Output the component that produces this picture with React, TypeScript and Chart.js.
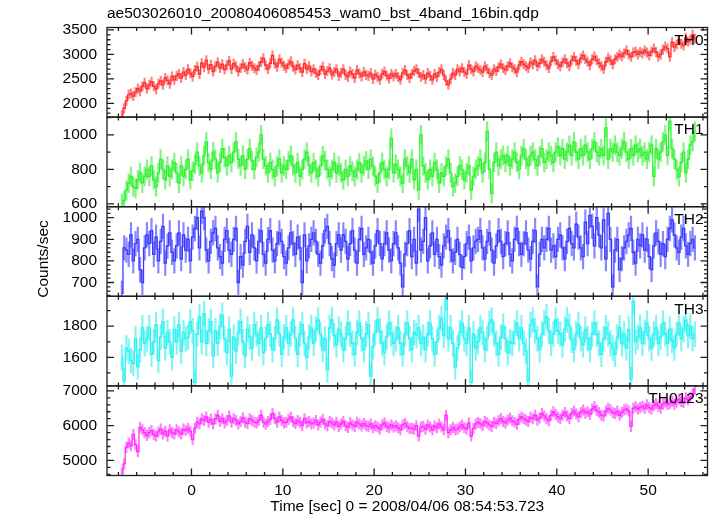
import { useEffect, useRef } from "react";
import { Chart, registerables } from "chart.js";

Chart.register(...registerables);

const TITLE = "ae503026010_20080406085453_wam0_bst_4band_16bin.qdp";
const X_TITLE = "Time [sec] 0 = 2008/04/06 08:54:53.723";
const Y_TITLE = "Counts/sec";
const FONT = "'Liberation Sans', Arial, Helvetica, sans-serif";
const FONT_SIZE = 15.5;

const TIME_START = -7.75;
const BIN_WIDTH = 0.25;

const TH0 = [
  1760,1900,2050,2180,2200,2150,2230,2300,2250,2350,2420,2300,
  2380,2440,2350,2290,2400,2460,2380,2520,2470,2400,2550,2480,
  2560,2600,2520,2640,2580,2700,2610,2550,2680,2750,2600,2820,
  2740,2880,2700,2790,2650,2760,2840,2720,2800,2690,2780,2870,
  2700,2810,2760,2650,2720,2800,2740,2690,2830,2770,2720,2680,
  2760,2850,2920,2780,2700,2820,2980,2810,2750,2900,2830,2770,
  2720,2800,2860,2750,2690,2780,2720,2640,2810,2700,2760,2650,
  2700,2620,2580,2680,2750,2600,2660,2720,2590,2640,2700,2560,
  2620,2700,2580,2540,2650,2600,2520,2680,2610,2550,2640,2580,
  2560,2620,2500,2590,2540,2480,2600,2650,2570,2510,2600,2550,
  2600,2540,2480,2620,2680,2580,2520,2600,2660,2700,2620,2540,
  2580,2500,2620,2560,2480,2600,2540,2640,2700,2580,2460,2380,
  2500,2620,2580,2700,2650,2720,2640,2600,2780,2700,2650,2760,
  2720,2680,2640,2760,2700,2620,2580,2700,2660,2740,2800,2720,
  2680,2760,2820,2740,2700,2640,2780,2850,2800,2760,2720,2840,
  2800,2880,2760,2820,2900,2850,2780,2720,2860,2950,2880,2800,
  2760,2840,2900,2820,2760,2880,2950,2870,2800,2920,2980,2900,
  2850,2780,2900,2960,2880,2820,2760,2700,2850,2930,2880,2800,
  2900,2950,3000,2960,3020,3080,3000,2950,3040,3060,3000,3050,
  3020,3080,3040,2980,3060,3120,3050,2950,3000,3100,3160,3120,
  2950,3250,3150,3200,3300,3220,3180,3340,3260,3300,3400,3320,
];

const TH1 = [
  600,620,680,720,760,700,690,740,780,720,760,800,
  760,820,740,700,780,860,800,740,820,760,800,840,
  780,720,820,760,800,860,740,790,830,900,820,780,
  880,960,840,800,900,860,780,840,920,870,820,880,
  840,900,960,860,820,880,800,860,920,850,800,870,
  900,1000,860,820,780,840,800,760,820,860,780,820,
  800,850,880,820,780,840,760,800,860,900,820,780,
  840,800,760,820,880,850,800,760,800,840,780,820,
  780,740,800,760,820,790,760,800,840,780,820,850,
  800,860,820,760,720,780,840,800,760,800,980,780,
  830,800,760,720,860,820,780,860,740,800,680,1000,
  820,780,740,800,760,840,800,720,780,760,820,860,
  780,700,720,760,820,800,740,780,820,680,760,800,
  820,860,780,840,1020,800,660,840,900,820,860,880,
  840,880,820,860,900,840,800,880,920,860,820,880,
  900,860,820,880,920,840,860,900,880,840,900,930,
  880,920,860,900,940,880,960,900,860,920,880,940,
  900,860,920,960,900,880,920,880,1040,860,920,900,
  940,900,880,920,960,900,860,920,880,940,900,920,
  880,900,860,900,940,760,920,860,900,960,1000,880,
  1080,920,860,800,760,840,900,780,860,940,960,1020,
];

const TH2 = [
  650,860,850,830,920,800,880,900,760,700,860,920,
  880,940,830,910,800,890,960,790,870,930,840,800,
  870,930,810,920,850,900,800,910,950,1000,860,1030,
  1000,850,800,890,930,950,860,820,790,900,940,850,
  830,900,950,700,820,780,890,960,840,920,860,800,
  890,940,830,790,900,940,850,800,880,930,890,820,
  790,860,930,880,830,910,860,700,920,800,870,900,
  930,890,830,790,870,940,960,880,810,780,880,920,
  850,920,890,810,880,940,850,790,900,950,830,860,
  900,840,790,870,940,880,810,880,930,850,800,880,
  930,860,790,680,830,880,940,820,900,790,1040,850,
  890,1000,800,870,930,830,900,820,780,870,910,940,
  850,800,840,900,830,770,820,880,910,800,860,890,
  900,940,860,810,890,930,850,790,870,940,890,820,
  880,930,830,800,900,950,880,830,880,930,850,810,
  890,940,680,830,900,860,900,950,850,870,820,900,
  920,860,810,890,950,880,860,970,910,860,820,980,
  880,1010,960,870,1000,920,860,990,810,1020,900,680,
  850,900,760,810,860,890,920,950,840,790,900,870,
  920,850,900,820,760,870,930,890,830,880,820,900,
  950,990,920,860,840,910,950,870,830,880,900,860,
];

const TH3 = [
  1600,1450,1660,1640,1580,1560,1720,1540,1650,1790,1690,1720,
  1790,1620,1700,1810,1580,1730,1830,1660,1760,1700,1600,1780,
  1700,1810,1640,1760,1720,1730,1830,1770,1440,1750,1860,1700,
  1880,1690,1770,1830,1610,1770,1690,1800,1870,1720,1630,1780,
  1480,1730,1640,1760,1830,1700,1610,1780,1730,1660,1810,1750,
  1690,1790,1630,1720,1810,1750,1650,1720,1840,1750,1620,1730,
  1790,1690,1750,1840,1720,1620,1750,1810,1690,1600,1730,1790,
  1690,1780,1840,1750,1650,1720,1520,1790,1840,1740,1680,1780,
  1750,1650,1720,1820,1750,1690,1620,1760,1820,1720,1650,1750,
  1810,1480,1670,1760,1840,1770,1690,1630,1730,1820,1750,1690,
  1720,1790,1690,1620,1750,1820,1720,1650,1760,1740,1790,1690,
  1730,1650,1750,1820,1720,1620,1700,1790,1850,1740,1980,1720,
  1790,1690,1540,1660,1760,1820,1720,1690,1790,1440,1750,1660,
  1700,1790,1760,1650,1720,1820,1840,1750,1690,1620,1730,1800,
  1720,1630,1700,1690,1760,1820,1720,1790,1690,1640,1450,1810,
  1840,1770,1720,1650,1750,1820,1860,1770,1690,1750,1840,1770,
  1750,1680,1780,1840,1800,1710,1650,1750,1810,1720,1680,1780,
  1720,1650,1750,1820,1750,1690,1620,1720,1790,1750,1690,1660,
  1620,1730,1790,1690,1750,1660,1780,1460,1960,1700,1730,1790,
  1690,1760,1820,1720,1660,1750,1790,1690,1730,1820,1750,1690,
  1780,1710,1660,1750,1820,1720,1780,1840,1740,1800,1720,1750,
];

const TH0123 = [
  4620,4900,5380,5500,5420,5750,5450,5250,5950,5880,5800,5720,
  5800,5860,5740,5700,5820,5900,5760,5840,5700,5880,5800,5760,
  5880,5820,5760,5900,5860,5920,5840,5600,5920,6100,6050,6200,
  6150,6250,6100,6180,6050,6200,6300,6120,6200,6080,6150,6280,
  6100,6200,6150,6050,6120,6220,6100,6060,6200,6150,6100,6080,
  6150,6300,6100,6050,6120,6180,6350,6200,6100,6250,6150,6080,
  6100,6180,6250,6120,6060,6150,6100,6000,6200,6080,6120,6050,
  6080,6150,6020,6100,6180,6050,6000,6120,6080,6020,6100,5980,
  6050,6120,6000,5950,6080,6020,5980,6100,6050,5990,6060,6000,
  5980,6050,5940,6000,5960,5900,6020,6080,5980,5940,6020,5960,
  6000,5940,5880,6020,6060,5980,5920,5920,5900,6000,5700,5960,
  5980,5900,6020,5960,5880,6000,5940,6050,5960,5880,6300,5800,
  5880,5950,5880,5900,5960,6020,5940,5900,6080,5700,5920,6050,
  6100,6060,6000,6120,6080,6020,5980,6100,6060,6140,6200,6120,
  6080,6160,6220,6140,6100,6040,6180,6250,6200,6160,6120,6240,
  6200,6300,6160,6220,6350,6280,6200,6140,6300,6400,6320,6250,
  6200,6300,6380,6280,6200,6350,6420,6340,6260,6380,6450,6360,
  6400,6320,6480,6550,6440,6380,6300,6280,6420,6500,6450,6380,
  6350,6420,6300,6380,6450,6480,6420,5980,6500,6550,6480,6520,
  6560,6500,6600,6520,6480,6580,6640,6560,6500,6620,6680,6600,
  6640,6700,6620,6680,6760,6700,6660,6800,6740,6820,6920,7050,
];

const BAND_NAMES = ["TH0", "TH1", "TH2", "TH3", "TH0123"];
const BAND_RATES = [TH0, TH1, TH2, TH3, TH0123];
const BAND_ERRORS = [95, 55, 57, 80, 150];
const BAND_COLORS = ["#ff2e2e", "#2ef22e", "#3a3aff", "#2ef2f2", "#ff2eff"];
const BAND_ERR_COLORS = [
  "rgba(255,60,60,0.65)",
  "rgba(60,240,60,0.65)",
  "rgba(70,70,255,0.65)",
  "rgba(60,240,240,0.65)",
  "rgba(255,60,255,0.65)",
];

const Y_MIN = [1720, 584, 636, 1417, 4565];
const Y_MAX = [3550, 1103, 1051, 1992, 7145];
const Y_LABEL_TICKS = [
  [2000, 2500, 3000, 3500],
  [600, 800, 1000],
  [700, 800, 900, 1000],
  [1600, 1800],
  [5000, 6000, 7000],
];
const Y_MINOR_STEP = [100, 100, 20, 100, 200];

const X_MIN = -9.25;
const X_MAX = 56.5;
const X_LABEL_TICKS = [0, 10, 20, 30, 40, 50];
const X_MINOR_STEP = 2;

const PLOT_LEFT = 107;
const PLOT_TOP = 27.5;
const RIGHT_PAD = 9.5;
const X_AXIS_HEIGHT = 40.5;

const TIMES = TH0.map((_, i) => TIME_START + BIN_WIDTH * (i + 0.5));

function minorValues(min: number, max: number, step: number, majors: number[]) {
  const out: number[] = [];
  const start = Math.ceil(min / step) * step;
  for (let v = start; v <= max + 1e-9; v += step) {
    const r = Math.round(v * 1000) / 1000;
    if (!majors.some((m) => Math.abs(m - r) < 1e-6)) out.push(r);
  }
  return out;
}

const framePlugin = {
  id: "qdpFrame",
  afterDatasetsDraw(chart: any) {
    const ctx = chart.ctx as CanvasRenderingContext2D;
    const { left, right } = chart.chartArea;
    const xs = chart.scales.x;
    const xMinor = minorValues(X_MIN, X_MAX, X_MINOR_STEP, X_LABEL_TICKS);
    ctx.save();
    ctx.strokeStyle = "#1e1e1e";
    ctx.lineWidth = 1.3;
    BAND_NAMES.forEach((name, b) => {
      const ys = chart.scales["y" + b];
      const top = ys.top;
      const bottom = ys.bottom;
      ctx.strokeRect(left, top, right - left, bottom - top);
      ctx.beginPath();
      const xTick = (v: number, len: number) => {
        const px = xs.getPixelForValue(v);
        if (px < left || px > right) return;
        ctx.moveTo(px, top);
        ctx.lineTo(px, top + len);
        ctx.moveTo(px, bottom);
        ctx.lineTo(px, bottom - len);
      };
      X_LABEL_TICKS.forEach((v) => xTick(v, 7));
      xMinor.forEach((v) => xTick(v, 3.5));
      const yTick = (v: number, len: number) => {
        const py = ys.getPixelForValue(v);
        if (py < top || py > bottom) return;
        ctx.moveTo(left, py);
        ctx.lineTo(left + len, py);
        ctx.moveTo(right, py);
        ctx.lineTo(right - len, py);
      };
      Y_LABEL_TICKS[b].forEach((v) => yTick(v, 7));
      minorValues(Y_MIN[b], Y_MAX[b], Y_MINOR_STEP[b], Y_LABEL_TICKS[b]).forEach((v) => yTick(v, 3.5));
      ctx.stroke();
      ctx.fillStyle = "#000";
      ctx.font = `${FONT_SIZE}px ${FONT}`;
      ctx.textAlign = "right";
      ctx.textBaseline = "middle";
      ctx.fillText(name, right - 4, top + 13);
    });
    ctx.fillStyle = "#000";
    ctx.font = `${FONT_SIZE}px ${FONT}`;
    ctx.textAlign = "left";
    ctx.textBaseline = "middle";
    ctx.fillText(TITLE, left, 14);
    ctx.save();
    ctx.translate(44, 259);
    ctx.rotate(-Math.PI / 2);
    ctx.textAlign = "center";
    ctx.fillText(Y_TITLE, 0, 0);
    ctx.restore();
    ctx.restore();
  },
};

export default function App() {
  const canvasRef = useRef<HTMLCanvasElement | null>(null);

  useEffect(() => {
    if (!canvasRef.current) return;
    const datasets: any[] = [];
    BAND_RATES.forEach((rates, b) => {
      const err = BAND_ERRORS[b];
      datasets.push({
        type: "line",
        label: BAND_NAMES[b],
        data: rates.map((v, i) => ({ x: TIMES[i], y: v })),
        yAxisID: "y" + b,
        xAxisID: "x",
        borderColor: BAND_COLORS[b],
        borderWidth: 1.3,
        pointRadius: 0,
        stepped: "middle",
        order: 1,
      });
      datasets.push({
        type: "bar",
        label: BAND_NAMES[b] + " err",
        data: rates.map((v, i) => ({ x: TIMES[i], y: [v - err, v + err] })),
        yAxisID: "y" + b,
        xAxisID: "x",
        backgroundColor: BAND_ERR_COLORS[b],
        borderWidth: 0,
        barThickness: 1.5,
        grouped: false,
        order: 2,
      });
    });

    const tickFont = { family: FONT, size: FONT_SIZE };
    const scales: any = {
      x: {
        type: "linear",
        min: X_MIN,
        max: X_MAX,
        offset: false,
        grid: { display: false, drawTicks: false },
        border: { display: false },
        afterBuildTicks: (s: any) => {
          s.ticks = X_LABEL_TICKS.map((v) => ({ value: v }));
        },
        afterFit: (s: any) => {
          s.height = X_AXIS_HEIGHT;
        },
        ticks: {
          autoSkip: false,
          maxRotation: 0,
          padding: 6,
          color: "#000",
          font: tickFont,
          callback: (v: any) => String(v),
        },
        title: {
          display: true,
          text: X_TITLE,
          color: "#000",
          font: tickFont,
          padding: { top: 0, bottom: 0 },
        },
      },
    };
    // Left-stacked axes are laid out last-defined on top, so define bottom panel first.
    for (let b = BAND_NAMES.length - 1; b >= 0; b--) {
      scales["y" + b] = {
        type: "linear",
        position: "left",
        stack: "bands",
        stackWeight: 1,
        min: Y_MIN[b],
        max: Y_MAX[b],
        grid: { display: false, drawTicks: false },
        border: { display: false },
        afterBuildTicks: (s: any) => {
          s.ticks = Y_LABEL_TICKS[b].map((v) => ({ value: v }));
        },
        afterFit: (s: any) => {
          s.width = PLOT_LEFT;
        },
        ticks: {
          autoSkip: false,
          padding: 10,
          color: "#000",
          font: tickFont,
          callback: (v: any) => String(v),
        },
      };
    }

    const chart = new Chart(canvasRef.current, {
      type: "bar",
      data: { datasets },
      options: {
        animation: false,
        responsive: false,
        maintainAspectRatio: false,
        layout: { padding: { left: 0, right: RIGHT_PAD, top: PLOT_TOP, bottom: 0 } },
        plugins: { legend: { display: false }, tooltip: { enabled: false }, title: { display: false } },
        scales,
      } as any,
      plugins: [framePlugin],
    });
    return () => chart.destroy();
  }, []);

  return (
    <div style={{ position: "fixed", left: 0, top: 0, width: 717, height: 516, background: "#fff" }}>
      <canvas ref={canvasRef} width={717} height={516} style={{ display: "block" }} />
    </div>
  );
}
